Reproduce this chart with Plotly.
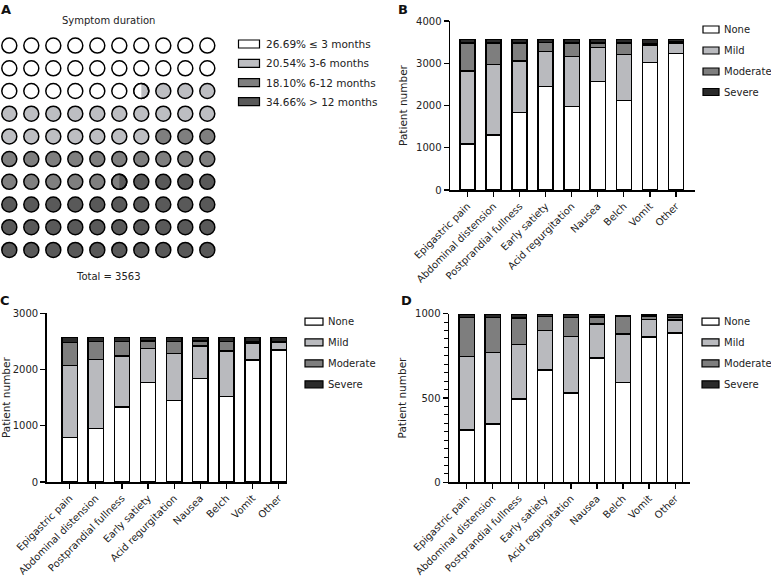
import math
import plotly.graph_objects as go

W, H = 771, 576

# ---------------- data ----------------
symptoms = ["Epigastric pain", "Abdominal distension", "Postprandial fullness",
            "Early satiety", "Acid regurgitation", "Nausea", "Belch", "Vomit", "Other"]
severity_levels = ["None", "Mild", "Moderate", "Severe"]

# Panel B (all patients, n = 3563)
b_none = [1090, 1300, 1840, 2445, 1975, 2565, 2115, 3020, 3235]
b_mild = [1727, 1675, 1213, 830, 1180, 805, 1095, 410, 235]
b_moderate = [666, 500, 430, 213, 320, 105, 265, 40, 33]
b_severe = [80, 88, 80, 75, 88, 88, 88, 93, 60]

# Panel C
c_none = [795, 950, 1335, 1767, 1453, 1838, 1524, 2170, 2348]
c_mild = [1275, 1232, 907, 605, 836, 576, 806, 300, 140]
c_moderate = [415, 315, 255, 136, 208, 94, 167, 20, 12]
c_severe = [84, 72, 72, 61, 72, 61, 72, 79, 69]

# Panel D
d_none = [311, 345, 493, 667, 529, 737, 592, 862, 887]
d_mild = [435, 425, 323, 232, 336, 203, 287, 104, 75]
d_moderate = [232, 208, 158, 85, 113, 40, 105, 20, 16]
d_severe = [16, 16, 20, 10, 16, 14, 2, 8, 16]

# Panel A (waffle)
duration_labels = ["\u2264 3 months", "3-6 months", "6-12 months", "> 12 months"]
duration_pct = [26.69, 20.54, 18.10, 34.66]
total_patients = 3563

# ---------------- style ----------------
FONT = "DejaVu Sans"
sev_colors = ["#ffffff", "#b9babe", "#7e7e7e", "#2a2a2a"]
dur_colors = ["#ffffff", "#bdbec2", "#7f7f7f", "#595959"]


def fx(px):
    return px / W


def fy(py):
    return 1 - py / H


fig = go.Figure()
shapes = []
annotations = []

# ---------------- Panel A: waffle ----------------
sx, sy = 22.0, 22.7
cx0, cy0 = 9.3, 45.6
ax_x0, ax_x1 = 0, 231.3
ax_y0, ax_y1 = 30, 270

bounds = []
acc = 0
for p in duration_pct:
    acc += p
    bounds.append(acc)

circ_cols, circ_rows, circ_fill = [], [], []
splits = []
for i in range(100):
    r, c = divmod(i, 10)
    mid = i + 0.5
    cat = next(k for k, b in enumerate(bounds) if mid <= b + 1e-9 or k == len(bounds) - 1)
    fill = dur_colors[cat]
    for k, b in enumerate(bounds[:-1]):
        if i < b < i + 1:
            frac = b - i
            if 0.3 <= frac <= 0.7:
                splits.append((c, r, dur_colors[k], dur_colors[k + 1]))
                fill = dur_colors[k + 1]
    circ_cols.append(c)
    circ_rows.append(r)
    circ_fill.append(fill)

fig.add_trace(go.Scatter(
    x=circ_cols, y=circ_rows, mode="markers",
    marker=dict(symbol="circle", size=15, color=circ_fill,
                line=dict(color="black", width=1.5)),
    xaxis="x", yaxis="y", showlegend=False, hoverinfo="skip"))

rad = 7.5
for (c, r, left_col, right_col) in splits:
    pts = []
    for k in range(41):
        th = math.pi / 2 + math.pi * k / 40
        pts.append((rad * math.cos(th), rad * math.sin(th)))
    path = "M " + " L ".join(f"{x:.3f},{y:.3f}" for x, y in pts) + " Z"
    shapes.append(dict(type="path", xref="x", yref="y", xsizemode="pixel", ysizemode="pixel",
                       xanchor=c, yanchor=r, path=path, fillcolor=left_col,
                       line=dict(width=0)))
    shapes.append(dict(type="circle", xref="x", yref="y", xsizemode="pixel", ysizemode="pixel",
                       xanchor=c, yanchor=r, x0=-rad, x1=rad, y0=-rad, y1=rad,
                       fillcolor="rgba(0,0,0,0)", line=dict(color="black", width=1.5)))

fig.update_layout(
    xaxis=dict(domain=[fx(ax_x0), fx(ax_x1)],
               range=[(ax_x0 - cx0) / sx, (ax_x1 - cx0) / sx],
               visible=False, fixedrange=True, automargin=False),
    yaxis=dict(domain=[fy(ax_y1), fy(ax_y0)],
               range=[(ax_y1 - cy0) / sy, (ax_y0 - cy0) / sy],
               visible=False, fixedrange=True, automargin=False),
)

annotations.append(dict(text="Symptom duration", x=fx(108), y=fy(20.5), xref="paper", yref="paper",
                        showarrow=False, xanchor="center", yanchor="middle",
                        font=dict(family=FONT, size=10, color="#222")))
annotations.append(dict(text=f"Total = {total_patients}", x=fx(108.3), y=fy(276), xref="paper",
                        yref="paper", showarrow=False, xanchor="center", yanchor="middle",
                        font=dict(family=FONT, size=10, color="#222")))

leg_a_rows = [44, 63.3, 82.7, 101.7]
for k in range(4):
    yc = leg_a_rows[k]
    shapes.append(dict(type="rect", xref="paper", yref="paper",
                       x0=fx(238.5), x1=fx(259.5), y0=fy(yc + 4), y1=fy(yc - 4),
                       fillcolor=dur_colors[k], line=dict(color="black", width=1.2)))
    annotations.append(dict(text=f"{duration_pct[k]:.2f}%", x=fx(263.5), y=fy(yc),
                            xref="paper", yref="paper", showarrow=False,
                            xanchor="left", yanchor="middle",
                            font=dict(family=FONT, size=10.5, color="#222")))
    annotations.append(dict(text=duration_labels[k], x=fx(307), y=fy(yc),
                            xref="paper", yref="paper", showarrow=False,
                            xanchor="left", yanchor="middle",
                            font=dict(family=FONT, size=10.5, color="#222")))

# ---------------- bar panels ----------------
panels = [
    dict(ax="2", data=[b_none, b_mild, b_moderate, b_severe], xdom=(450, 695), ydom=(21, 190),
         xr=[-0.67, 8.73], yr=[0, 4000], dtick=1000, minor=None,
         leg_x=(703, 719), leg_tx=722.5, leg_rows=[29.5, 50.5, 71.5, 92]),
    dict(ax="3", data=[c_none, c_mild, c_moderate, c_severe], xdom=(46.7, 287.3), ydom=(313.3, 482),
         xr=[-0.88, 8.33], yr=[0, 3000], dtick=1000, minor=None,
         leg_x=(305, 323), leg_tx=326.7, leg_rows=[321.7, 342.3, 363.3, 384.3]),
    dict(ax="4", data=[d_none, d_mild, d_moderate, d_severe], xdom=(449, 690), ydom=(313.7, 482.3),
         xr=[-0.68, 8.57], yr=[0, 1000], dtick=500, minor=50,
         leg_x=(702, 719), leg_tx=722.5, leg_rows=[321.7, 342.3, 363.3, 384.3]),
]

axis_font = dict(family=FONT, size=10, color="#222")
for p in panels:
    for k, vals in enumerate(p["data"]):
        fig.add_trace(go.Bar(
            x=symptoms, y=vals, name=severity_levels[k], width=0.58,
            marker=dict(color=sev_colors[k], line=dict(color="black", width=1.5)),
            xaxis="x" + p["ax"], yaxis="y" + p["ax"], showlegend=False))
    xa = dict(domain=[fx(p["xdom"][0]), fx(p["xdom"][1])], anchor="y" + p["ax"],
              range=p["xr"], showline=True, linecolor="black", linewidth=1.5,
              ticks="outside", ticklen=5, tickwidth=1.2, tickcolor="black",
              tickangle=-45, tickfont=axis_font, showgrid=False, zeroline=False,
              fixedrange=True, automargin=False)
    ya = dict(domain=[fy(p["ydom"][1]), fy(p["ydom"][0])], anchor="x" + p["ax"],
              range=p["yr"], dtick=p["dtick"], showline=True, linecolor="black", linewidth=1.5,
              ticks="outside", ticklen=5, tickwidth=1.2, tickcolor="black",
              tickfont=axis_font, showgrid=False, zeroline=False, fixedrange=True,
              automargin=False,
              title=dict(text="Patient number", font=dict(family=FONT, size=10.5, color="#222"),
                         standoff=6))
    if p["minor"]:
        ya["minor"] = dict(dtick=p["minor"], ticks="outside", ticklen=4, tickwidth=1,
                           tickcolor="black", showgrid=False)
    fig.update_layout(**{"xaxis" + p["ax"]: xa, "yaxis" + p["ax"]: ya})

    for k in range(4):
        yc = p["leg_rows"][k]
        shapes.append(dict(type="rect", xref="paper", yref="paper",
                           x0=fx(p["leg_x"][0]), x1=fx(p["leg_x"][1]),
                           y0=fy(yc + 3.5), y1=fy(yc - 3.5),
                           fillcolor=sev_colors[k], line=dict(color="black", width=1.2)))
        annotations.append(dict(text=severity_levels[k], x=fx(p["leg_tx"]), y=fy(yc),
                                xref="paper", yref="paper", showarrow=False,
                                xanchor="left", yanchor="middle", borderpad=0,
                                font=dict(family=FONT, size=10, color="#222")))

# panel letters
for letter, (lx, ly) in {"A": (6, 9), "B": (402.5, 9.5), "C": (5, 300), "D": (406, 300)}.items():
    annotations.append(dict(text=f"<b>{letter}</b>", x=fx(lx), y=fy(ly), xref="paper", yref="paper",
                            showarrow=False, xanchor="center", yanchor="middle",
                            font=dict(family=FONT, size=13, color="#111")))

fig.update_layout(
    width=W, height=H, autosize=False,
    margin=dict(l=0, r=0, t=0, b=0, pad=0),
    paper_bgcolor="white", plot_bgcolor="white",
    barmode="stack", showlegend=False,
    shapes=shapes, annotations=annotations,
    font=dict(family=FONT, size=10, color="#222"),
)

fig.write_html("out.html",
               config={"displayModeBar": False, "staticPlot": True},
               post_script="document.body.style.margin='0px';document.body.style.overflow='hidden';")
